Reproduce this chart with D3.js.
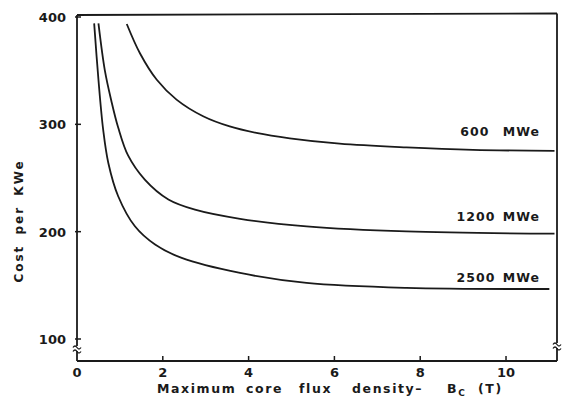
<!DOCTYPE html>
<html>
<head>
<meta charset="utf-8">
<script src="https://cdn.jsdelivr.net/npm/d3@7/dist/d3.min.js"></script>
<style>
body { margin: 0; background: #fff; }
svg text { font-family: "DejaVu Sans", sans-serif; font-weight: bold; fill: #1a1a1a; }
</style>
</head>
<body>
<div id="chart"></div>
<script>
// values: flux density (T) -> cost per kWe
let series = ['600 MWe', '1200 MWe', '2500 MWe'];

let flux600 = [1.16, 1.47, 1.86, 2.32, 2.94, 3.56, 4.18, 4.96, 6.12, 7.68, 9.23, 11.13];
let cost600 = [393.5, 366, 341.5, 323, 307.5, 298, 292, 287, 282, 278.5, 276.2, 275.3];

let flux1200 = [0.50, 0.65, 0.80, 0.96, 1.19, 1.58, 2.13, 2.75, 3.80, 5.35, 7.68, 11.13];
let cost1200 = [394, 350, 322, 297, 271, 248.5, 230, 220.5, 212, 205, 200.2, 198.1];

let flux2500 = [0.40, 0.50, 0.61, 0.73, 0.96, 1.35, 1.82, 2.44, 3.80, 5.35, 7.68, 11.01];
let cost2500 = [394, 341.5, 295, 264, 233, 205, 188, 175.5, 161.5, 152.2, 147.6, 146.6];

let xTicks = [0, 2, 4, 6, 8, 10];
let yTicks = [100, 200, 300, 400];

let width = 564;
let height = 398;
let ink = '#1a1a1a';

let svg = d3.select('#chart')
	.append('svg')
	.attr('width', width)
	.attr('height', height);

let x = d3.scaleLinear()
	.domain([0, 11.2])
	.range([77, 557.5]);

let y = d3.scaleLinear()
	.domain([79.5, 400])
	.range([361, 17]);

let frame = svg.append('g')
	.attr('stroke', ink)
	.attr('stroke-width', 1.8)
	.attr('fill', 'none');

let frameTop = y(400) - 2;
let frameBottom = y(79.5);
let frameLeft = x(0);
let frameRight = x(11.2) - 0.5;

// frame: left, top, right, bottom
frame.append('path').attr('d', d3.line()([[frameLeft, frameTop], [frameLeft, frameBottom]]));
frame.append('path').attr('d', d3.line()([[frameLeft, frameTop], [frameRight, frameTop - 1.5]]));
frame.append('path').attr('d', d3.line()([[frameRight, frameTop - 1.5], [frameRight, frameBottom]]));
frame.append('path').attr('d', d3.line()([[frameLeft, frameBottom], [frameRight, frameBottom]]));

// axis break marks
function breakMark(cx, cy){
	let g = svg.append('g');
	g.append('rect')
		.attr('x', cx - 4).attr('y', cy - 3)
		.attr('width', 8).attr('height', 5)
		.attr('fill', '#fff');
	[-2.5, 1.5].forEach(function(dy){
		g.append('path')
			.attr('d', 'M' + (cx - 4) + ',' + (cy + dy + 1) +
				' q2,-3 4,0 q2,3 4,0')
			.attr('stroke', ink)
			.attr('stroke-width', 1.3)
			.attr('fill', 'none');
	});
}
breakMark(frameLeft, 349);
breakMark(frameRight, 346);

// ticks
svg.append('g')
	.selectAll('line')
	.data(xTicks.slice(1))
	.enter()
	.append('line')
	.attr('x1', function(d){ return x(d); })
	.attr('x2', function(d){ return x(d); })
	.attr('y1', frameBottom)
	.attr('y2', frameBottom - 5)
	.attr('stroke', ink)
	.attr('stroke-width', 1.5);

svg.append('g')
	.selectAll('line')
	.data(yTicks)
	.enter()
	.append('line')
	.attr('x1', frameLeft - 2)
	.attr('x2', frameLeft + 4)
	.attr('y1', function(d){ return y(d); })
	.attr('y2', function(d){ return y(d); })
	.attr('stroke', ink)
	.attr('stroke-width', 1.5);

svg.append('g')
	.selectAll('text')
	.data(xTicks)
	.enter()
	.append('text')
	.attr('x', function(d){ return x(d); })
	.attr('y', 377)
	.attr('text-anchor', 'middle')
	.attr('font-size', 13)
	.text(function(d){ return d; });

svg.append('g')
	.selectAll('text')
	.data(yTicks)
	.enter()
	.append('text')
	.attr('x', 66)
	.attr('y', function(d){ return y(d) + 5; })
	.attr('text-anchor', 'end')
	.attr('font-size', 13)
	.text(function(d){ return d; });

// axis titles, words spaced out like the original lettering
let xWords = [['Maximum', 157], ['core', 246], ['flux', 299], ['density\u2013', 352]];
let xt = svg.append('text')
	.attr('y', 393)
	.attr('font-size', 12.5)
	.attr('letter-spacing', 1.6);
xWords.forEach(function(w){
	xt.append('tspan').attr('x', w[1]).text(w[0]);
});
xt.append('tspan').attr('x', 447).text('B');
xt.append('tspan').attr('font-size', 9).attr('dy', 3).text('C');
xt.append('tspan').attr('x', 478).attr('dy', -3).text('(T)');

svg.append('text')
	.attr('transform', 'translate(23,221) rotate(-90)')
	.attr('text-anchor', 'middle')
	.attr('font-size', 12)
	.attr('letter-spacing', 2)
	.attr('word-spacing', 4)
	.text('Cost per KWe');

// curves
let data = [
	{ name: series[0], flux: flux600, cost: cost600, ly: 136 },
	{ name: series[1], flux: flux1200, cost: cost1200, ly: 221 },
	{ name: series[2], flux: flux2500, cost: cost2500, ly: 282 }
];

let line = d3.line()
	.x(function(d){ return x(d[0]); })
	.y(function(d){ return y(d[1]); })
	.curve(d3.curveCatmullRom.alpha(0.5));

svg.append('g')
	.selectAll('path')
	.data(data)
	.enter()
	.append('path')
	.attr('d', function(d){
		return line(d.flux.map(function(f, i){ return [f, d.cost[i]]; }));
	})
	.attr('fill', 'none')
	.attr('stroke', ink)
	.attr('stroke-width', 1.8);

svg.append('g')
	.selectAll('text')
	.data(data)
	.enter()
	.append('text')
	.attr('x', 540)
	.attr('y', function(d){ return d.ly; })
	.attr('text-anchor', 'end')
	.attr('font-size', 12.5)
	.attr('letter-spacing', 1)
	.attr('word-spacing', function(d){ return d.name === '600 MWe' ? 8 : 2; })
	.attr('xml:space', 'preserve')
	.text(function(d){ return d.name; });
</script>
</body>
</html>
